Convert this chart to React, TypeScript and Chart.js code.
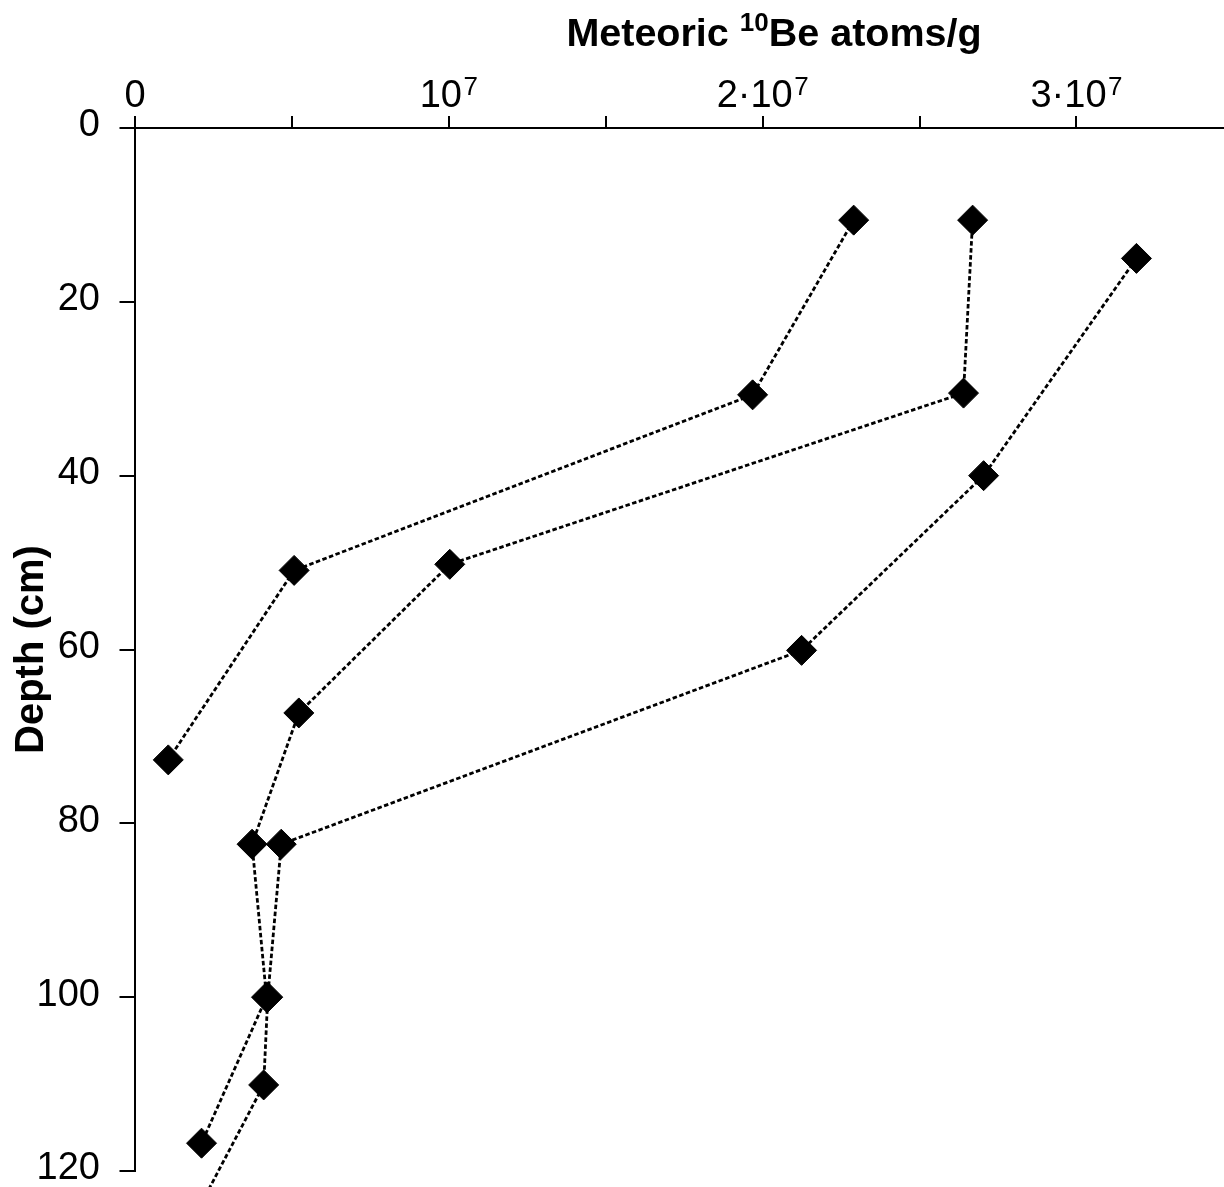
import React, { useEffect, useRef } from 'react';
import { Chart, registerables } from 'chart.js';

Chart.register(...registerables);

// ---- data (x: meteoric 10Be atoms/g, y: depth in cm) ----
const profileA_atoms = [2.29e7, 1.968e7, 0.507e7, 0.106e7];
const profileA_depth = [10.6, 30.7, 50.9, 72.7];

const profileB_atoms = [2.669e7, 2.64e7, 1.003e7, 0.522e7, 0.373e7, 0.419e7, 0.212e7];
const profileB_depth = [10.6, 30.5, 50.2, 67.3, 82.4, 100.0, 116.8];

const profileC_atoms = [3.191e7, 2.704e7, 2.124e7, 0.466e7, 0.423e7, 0.41e7, 0.12e7];
const profileC_depth = [15.0, 40.0, 60.1, 82.4, 100.0, 110.1, 130.0];

// ---- axis ticks ----
const xTickValues = [0, 0.5e7, 1e7, 1.5e7, 2e7, 2.5e7, 3e7];
const xLabelValues = [0, 1e7, 2e7, 3e7];
const xLabelBase = ['0', '10', '2·10', '3·10'];
const xLabelExp = ['', '7', '7', '7'];
const yTickValues = [0, 20, 40, 60, 80, 100, 120];
const yTickLabels = ['0', '20', '40', '60', '80', '100', '120'];

const xTitleParts = ['Meteoric ', '10', 'Be atoms/g'];
const yTitle = 'Depth (cm)';

const FONT = "'Liberation Sans', Arial, Helvetica, sans-serif";

const toPoints = (xs: number[], ys: number[]) => xs.map((x, i) => ({ x, y: ys[i] }));

const topLabelsPlugin = {
  id: 'topLabels',
  afterDraw(chart: any) {
    const ctx = chart.ctx as CanvasRenderingContext2D;
    const xs = chart.scales.x;
    ctx.save();
    ctx.fillStyle = '#000';
    ctx.textBaseline = 'alphabetic';
    ctx.textAlign = 'left';
    // tick labels with superscript exponent
    const baseFont = `38px ${FONT}`;
    const expFont = `26px ${FONT}`;
    const baseY = 107;
    const expY = 94.5;
    const gap = 1.5;
    xLabelValues.forEach((v, i) => {
      const px = xs.getPixelForValue(v);
      ctx.font = baseFont;
      const wb = ctx.measureText(xLabelBase[i]).width;
      ctx.font = expFont;
      const we = xLabelExp[i] ? ctx.measureText(xLabelExp[i]).width + gap : 0;
      const start = px - (wb + we) / 2;
      ctx.font = baseFont;
      ctx.fillText(xLabelBase[i], start, baseY);
      if (xLabelExp[i]) {
        ctx.font = expFont;
        ctx.fillText(xLabelExp[i], start + wb + gap, expY);
      }
    });
    // axis title with superscript
    const tBig = `bold 39.5px ${FONT}`;
    const tSmall = `bold 26px ${FONT}`;
    const fonts = [tBig, tSmall, tBig];
    const offs = [0, -15, 0];
    const widths = xTitleParts.map((t, i) => {
      ctx.font = fonts[i];
      return ctx.measureText(t).width;
    });
    const total = widths.reduce((a, b) => a + b, 0);
    const cx = 774;
    let x = cx - total / 2;
    xTitleParts.forEach((t, i) => {
      ctx.font = fonts[i];
      ctx.fillText(t, x, 46 + offs[i]);
      x += widths[i];
    });
    ctx.restore();
  },
};

export default function App() {
  const ref = useRef<HTMLCanvasElement | null>(null);

  useEffect(() => {
    if (!ref.current) return;
    const lineStyle = {
      showLine: true,
      borderColor: '#000',
      borderWidth: 2.8,
      borderDash: [4.5, 2.5],
      pointStyle: 'rectRot',
      pointRadius: 15,
      pointHoverRadius: 15,
      pointBackgroundColor: '#000',
      pointBorderColor: '#000',
      pointBorderWidth: 1,
      clip: false,
      tension: 0,
    };
    const chart = new Chart(ref.current, {
      type: 'scatter',
      data: {
        datasets: [
          { label: 'Profile A', data: toPoints(profileA_atoms, profileA_depth), ...lineStyle },
          { label: 'Profile B', data: toPoints(profileB_atoms, profileB_depth), ...lineStyle },
          { label: 'Profile C', data: toPoints(profileC_atoms, profileC_depth), ...lineStyle },
        ],
      } as any,
      options: {
        animation: false,
        responsive: false,
        maintainAspectRatio: false,
        devicePixelRatio: 1,
        layout: { autoPadding: false, padding: { left: 0, right: 0, top: 0, bottom: 16 } },
        plugins: { legend: { display: false }, tooltip: { enabled: false } },
        scales: {
          x: {
            type: 'linear',
            position: 'top',
            min: 0,
            max: 3.47e7,
            afterBuildTicks: (s: any) => {
              s.ticks = xTickValues.map((value) => ({ value }));
            },
            afterFit: (s: any) => {
              s.height = 128;
              s.paddingLeft = 0;
              s.paddingRight = 0;
            },
            ticks: { display: false },
            grid: {
              drawOnChartArea: false,
              drawTicks: true,
              tickLength: 12,
              tickWidth: 2,
              tickColor: '#000',
              color: '#000',
              lineWidth: 2,
            },
            border: { display: true, color: '#000', width: 2 },
          },
          y: {
            type: 'linear',
            position: 'left',
            reverse: true,
            min: 0,
            max: 120,
            afterBuildTicks: (s: any) => {
              s.ticks = yTickValues.map((value) => ({ value }));
            },
            afterFit: (s: any) => {
              s.width = 135;
              s.paddingTop = 0;
              s.paddingBottom = 0;
            },
            ticks: {
              color: '#000',
              font: { family: FONT, size: 38, lineHeight: 0.8 },
              padding: 19.5,
              labelOffset: -2,
              callback: (v: any) => {
                const i = yTickValues.indexOf(Number(v));
                return i >= 0 ? yTickLabels[i] : '';
              },
            },
            grid: {
              drawOnChartArea: false,
              drawTicks: true,
              tickLength: 15.5,
              tickWidth: 2,
              tickColor: '#000',
              color: '#000',
              lineWidth: 2,
            },
            border: { display: true, color: '#000', width: 2 },
            title: {
              display: true,
              text: yTitle,
              color: '#000',
              font: { family: FONT, size: 40, weight: 'bold', lineHeight: 1 },
              padding: { top: 12, bottom: 0 },
            },
          },
        },
      } as any,
      plugins: [topLabelsPlugin],
    });
    return () => chart.destroy();
  }, []);

  return (
    <div
      style={{
        position: 'fixed',
        top: 0,
        left: 0,
        width: 1224,
        height: 1187,
        background: '#fff',
        overflow: 'hidden',
      }}
    >
      <canvas ref={ref} width={1224} height={1187} style={{ width: 1224, height: 1187, display: 'block' }} />
    </div>
  );
}
